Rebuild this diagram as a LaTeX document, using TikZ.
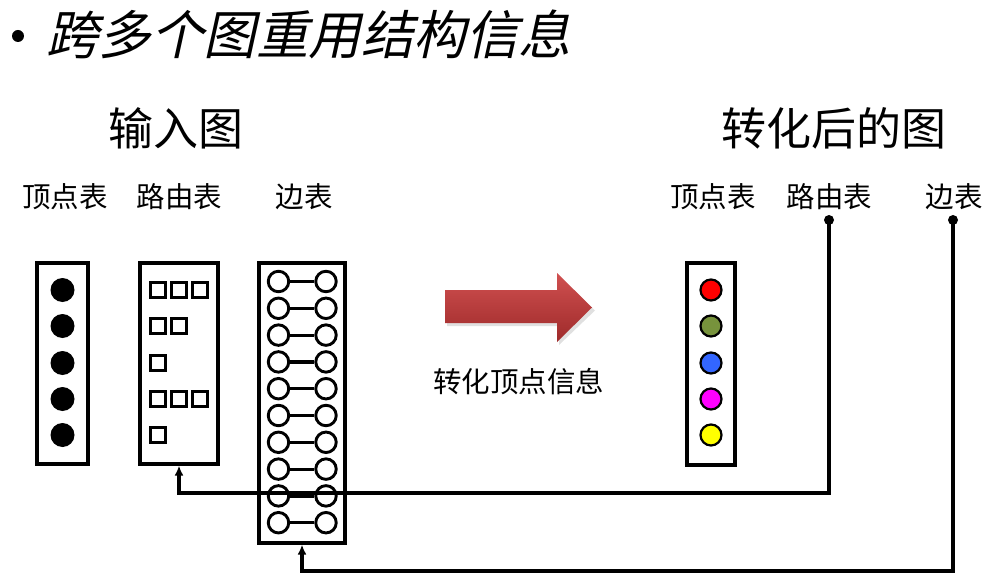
\documentclass[tikz,border=0pt]{standalone}
\usepackage{fontspec}
\setmainfont{Liberation Sans}
\newfontfamily\cjk{Noto Sans CJK SC}
\newfontfamily\cjkit[FakeSlant=0.22]{Noto Sans CJK SC}
\usetikzlibrary{arrows.meta}
\definecolor{olivec}{HTML}{77933C}
\definecolor{bluec}{HTML}{3366FF}
\definecolor{magc}{HTML}{FF00FF}
\definecolor{yelc}{HTML}{FFFF00}
\definecolor{redc}{HTML}{FF0000}
\definecolor{arrtop}{HTML}{D05050}
\definecolor{arrbot}{HTML}{9E2A2A}
\begin{document}
\begin{tikzpicture}[x=1bp,y=-1bp,
  tbl/.style={draw=black,line width=3.2bp,fill=white,inner sep=0pt,rectangle},
  vdot/.style={circle,fill=black,inner sep=0pt,minimum size=24bp},
  rsq/.style={rectangle,draw=black,line width=2.6bp,inner sep=0pt,minimum size=14.5bp},
  ecirc/.style={circle,draw=black,line width=2.9bp,fill=white,inner sep=0pt,minimum size=20.5bp},
  eline/.style={line width=3.2bp},
  cdot/.style={circle,draw=black,line width=2.2bp,inner sep=0pt,minimum size=21bp},
  conn/.style={line width=3.2bp,-{Latex[length=10bp,width=9bp]}},
  lbl/.style={inner sep=0pt,font=\cjk\fontsize{28.5bp}{30bp}\selectfont},
  head/.style={inner sep=0pt,font=\cjk\fontsize{45bp}{48bp}\selectfont},
  pin/.style={circle,fill=black,inner sep=0pt,minimum size=10bp}]
\useasboundingbox (0,0) rectangle (987,584);

% title
\node[circle,fill=black,inner sep=0pt,minimum size=12bp] (bullet) at (18,36) {};
\node[anchor=west,inner sep=0pt,font=\cjkit\fontsize{52.5bp}{56bp}\selectfont] (title) at (46,34) {跨多个图重用结构信息};

% headings
\node[head] (hin) at (175.5,128) {输入图};
\node[head] (hout) at (833.5,128) {转化后的图};

% labels
\node[lbl] (l1) at (65,197) {顶点表};
\node[lbl] (l2) at (179.5,197) {路由表};
\node[lbl] (l3) at (304,197) {边表};
\node[lbl] (l4) at (713,197) {顶点表};
\node[lbl] (l5) at (829.5,197) {路由表};
\node[lbl] (l6) at (954,197) {边表};

% input tables
\node[tbl,minimum width=51bp,minimum height=201bp] (vbox) at (62.5,363.5) {};
\node[tbl,minimum width=78bp,minimum height=201bp] (rbox) at (179,363.5) {};
\node[tbl,minimum width=86bp,minimum height=280bp] (ebox) at (302,403) {};

\foreach \y [count=\i] in {290,326,363,399,435}
  \node[vdot] (v\i) at (62.5,\y) {};

\foreach \y/\n [count=\i] in {290/3,326/2,363/1,399/3,435/1}
  \foreach \k in {1,...,\n}
    \node[rsq] (r\i-\k) at ({137+21*\k},\y) {};

\foreach \i in {0,...,9} {
  \node[ecirc] (ea\i) at (278.5,{281.5+26.8*\i}) {};
  \node[ecirc] (eb\i) at (326,{281.5+26.8*\i}) {};
  \draw[eline] (ea\i) -- (eb\i);
}

% big arrow
\fill[black,opacity=0.12] (447,293) -- (559,293) -- (559,276) -- (595,310.5) -- (559,345) -- (559,326) -- (447,326) -- cycle;
\shade[top color=arrtop,bottom color=arrbot] (445,290) -- (557,290) -- (557,273) -- (592,307.5) -- (557,342) -- (557,323) -- (445,323) -- cycle;
\node[lbl] (ltrans) at (518.5,382) {转化顶点信息};

% output vertex table
\node[tbl,minimum width=48bp,minimum height=202bp] (obox) at (711,364) {};
\foreach \y/\c [count=\i] in {290/redc,326/olivec,363/bluec,399/magc,435/yelc}
  \node[cdot,fill=\c] (o\i) at (711,\y) {};

% connectors
\node[pin] (rdot) at (829,220) {};
\node[pin] (edot) at (953,220) {};
\coordinate (rturn) at (829,493);
\coordinate (eturn) at (953,571);
\draw[conn] (rdot.center) -- (rturn) -| (rbox.south);
\draw[conn] (edot.center) -- (eturn) -| (ebox.south);
\end{tikzpicture}
\end{document}
